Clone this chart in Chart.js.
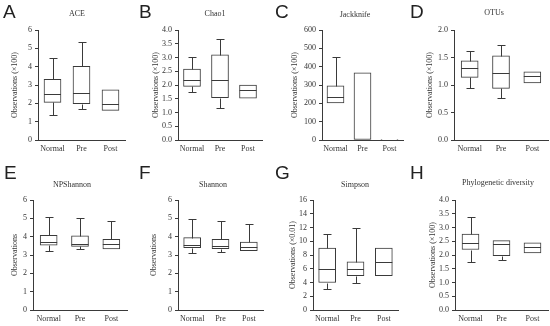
<!DOCTYPE html>
<html lang="en">
<head>
    <meta charset="UTF-8">
    <title>Alpha diversity box plots</title>
    <script src="https://cdn.jsdelivr.net/npm/chart.js"></script>
    <style>
        body {
            margin: 0;
            background-color: #ffffff;
        }

        #wrap {
            position: relative;
            width: 550px;
            height: 326px;
        }

        #wrap canvas {
            position: absolute;
        }

        .letter {
            position: absolute;
            font-family: 'Liberation Sans', Arial, sans-serif;
            font-size: 19px;
            line-height: 1;
            color: #222;
        }

        .ptitle {
            position: absolute;
            font-family: 'Liberation Serif', 'Times New Roman', serif;
            font-size: 8px;
            line-height: 1;
            color: #333;
            white-space: nowrap;
            transform: translate(-50%, -50%);
        }
    </style>
</head>
<body>
    <div id="wrap"></div>

    <script>
        const groups = ['Normal', 'Pre', 'Post'];

        // each row: [min, q1, median, q3, max] for Normal, Pre, Post
        const aceBoxes = [[1.38, 2.05, 2.52, 3.31, 4.50], [1.69, 1.98, 2.58, 4.02, 5.36], [1.62, 1.62, 1.96, 2.73, 2.73]];
        const chao1Boxes = [[1.76, 1.95, 2.20, 2.58, 3.01], [1.18, 1.54, 2.17, 3.10, 3.66], [1.52, 1.52, 1.82, 2.00, 2.00]];
        const jackknifeBoxes = [[202, 202, 236, 296, 451], [0, 0, 0, 367, 367], [0, 0, 1, 1, 1]];
        const otuBoxes = [[0.95, 1.14, 1.31, 1.44, 1.62], [0.76, 0.94, 1.22, 1.53, 1.72], [1.04, 1.04, 1.16, 1.24, 1.24]];
        const npShannonBoxes = [[3.22, 3.53, 3.71, 4.07, 5.09], [3.35, 3.47, 3.60, 4.04, 5.04], [3.33, 3.33, 3.60, 3.85, 4.87]];
        const shannonBoxes = [[3.13, 3.40, 3.56, 3.95, 4.95], [3.16, 3.35, 3.49, 3.85, 4.87], [3.24, 3.24, 3.45, 3.71, 4.71]];
        const simpsonBoxes = [[3, 4, 6, 9, 11], [4, 5, 6, 7, 12], [5, 5, 7, 9, 9]];
        const phyloBoxes = [[1.76, 2.20, 2.42, 2.76, 3.39], [1.82, 1.98, 2.41, 2.52, 2.52], [2.08, 2.08, 2.29, 2.44, 2.44]];

        const ticks0to6 = [0, 1, 2, 3, 4, 5, 6];
        const ticks0to4 = [0, 0.5, 1, 1.5, 2, 2.5, 3, 3.5, 4];
        const ticks0to600 = [0, 100, 200, 300, 400, 500, 600];
        const ticks0to2 = [0, 0.5, 1, 1.5, 2];
        const ticks0to16 = [0, 2, 4, 6, 8, 10, 12, 14, 16];

        const titles = ['ACE', 'Chao1', 'Jackknife', 'OTUs', 'NPShannon', 'Shannon', 'Simpson', 'Phylogenetic diversity'];
        const letters = ['A', 'B', 'C', 'D', 'E', 'F', 'G', 'H'];
        const yTitles = ['Observations (×100)', 'Observations (×100)', 'Observations (×100)', 'Observations (×100)',
                         'Observations', 'Observations', 'Observations (×0.01)', 'Observations (×100)'];

        // layout of each panel (page px): canvas box, plot box, title/letter spots
        const panels = [
            { boxes: aceBoxes, ticks: ticks0to6, dec: 0, cx: 0, cy: 0, cw: 135, pl: 38, pr: 125, pt: 30, pb: 140, yto: 15, tx: 77, ty: 14, lx: 3, ly: 2 },
            { boxes: chao1Boxes, ticks: ticks0to4, dec: 1, cx: 135, cy: 0, cw: 135, pl: 178, pr: 262, pt: 30, pb: 140, yto: 21, tx: 215, ty: 14, lx: 139, ly: 2 },
            { boxes: jackknifeBoxes, ticks: ticks0to600, dec: 0, cx: 270, cy: 0, cw: 135, pl: 322, pr: 403, pt: 30, pb: 140, yto: 25, tx: 355, ty: 15, lx: 275, ly: 2 },
            { boxes: otuBoxes, ticks: ticks0to2, dec: 1, cx: 405, cy: 0, cw: 145, pl: 454, pr: 548, pt: 30, pb: 140, yto: 25, tx: 494, ty: 13, lx: 410, ly: 2 },
            { boxes: npShannonBoxes, ticks: ticks0to6, dec: 0, cx: 0, cy: 163, cw: 135, pl: 33, pr: 127, pt: 200, pb: 310, yto: 15, tx: 72, ty: 185, lx: 4, ly: 163 },
            { boxes: shannonBoxes, ticks: ticks0to6, dec: 0, cx: 135, cy: 163, cw: 135, pl: 178, pr: 263, pt: 200, pb: 310, yto: 19, tx: 213, ty: 185, lx: 139, ly: 163 },
            { boxes: simpsonBoxes, ticks: ticks0to16, dec: 0, cx: 270, cy: 163, cw: 135, pl: 313, pr: 398, pt: 200, pb: 310, yto: 23, tx: 355, ty: 185, lx: 275, ly: 163 },
            { boxes: phyloBoxes, ticks: ticks0to4, dec: 1, cx: 405, cy: 163, cw: 145, pl: 455, pr: 548, pt: 200, pb: 310, yto: 28, tx: 498, ty: 183, lx: 410, ly: 163 }
        ];

        const lineColor = '#3a3a3a';
        const textColor = '#333';
        const serif = "'Liberation Serif', 'Times New Roman', serif";

        // whiskers + median, drawn with the chart's own scales
        const boxWhisker = {
            id: 'boxWhisker',
            afterDatasetsDraw(chart, args, opts) {
                const rows = opts.rows;
                if (!rows) return;
                const ctx = chart.ctx;
                const y = chart.scales.y;
                const meta = chart.getDatasetMeta(0);
                const py = v => Math.round(y.getPixelForValue(v)) + 0.5;
                const line = (x1, y1, x2, y2) => {
                    ctx.beginPath();
                    ctx.moveTo(x1, y1);
                    ctx.lineTo(x2, y2);
                    ctx.stroke();
                };
                ctx.save();
                ctx.strokeStyle = lineColor;
                ctx.lineWidth = 1;
                rows.forEach((r, i) => {
                    const bar = meta.data[i];
                    const cx = Math.round(bar.x) + 0.5;
                    const left = bar.x - bar.width / 2;
                    const right = bar.x + bar.width / 2;
                    const cap = Math.round(bar.width * 0.22);
                    if (r[4] > r[3]) {
                        line(cx, py(r[3]), cx, py(r[4]));
                        line(cx - cap, py(r[4]), cx + cap, py(r[4]));
                    }
                    if (r[0] < r[1]) {
                        line(cx, py(r[1]), cx, py(r[0]));
                        line(cx - cap, py(r[0]), cx + cap, py(r[0]));
                    }
                    line(left, py(r[2]), right, py(r[2]));
                });
                ctx.restore();
            }
        };

        const wrap = document.getElementById('wrap');

        panels.forEach((p, k) => {
            const ch = 163;
            const canvas = document.createElement('canvas');
            canvas.width = p.cw;
            canvas.height = ch;
            canvas.style.left = p.cx + 'px';
            canvas.style.top = p.cy + 'px';
            wrap.appendChild(canvas);

            const letter = document.createElement('div');
            letter.className = 'letter';
            letter.style.left = p.lx + 'px';
            letter.style.top = p.ly + 'px';
            letter.textContent = letters[k];
            wrap.appendChild(letter);

            const t = document.createElement('div');
            t.className = 'ptitle';
            t.style.left = p.tx + 'px';
            t.style.top = p.ty + 'px';
            t.textContent = titles[k];
            wrap.appendChild(t);

            const yWidth = p.pl - p.cx;
            const xHeight = p.cy + ch - p.pb;

            new Chart(canvas, {
                type: 'bar',
                data: {
                    labels: groups,
                    datasets: [{
                        data: p.boxes.map(r => [r[1], r[3]]),
                        backgroundColor: '#ffffff',
                        borderColor: lineColor,
                        borderWidth: 1,
                        borderSkipped: false,
                        barThickness: 17
                    }]
                },
                options: {
                    responsive: false,
                    animation: false,
                    devicePixelRatio: 1,
                    layout: {
                        padding: { top: p.pt - p.cy, right: p.cx + p.cw - p.pr, bottom: 0, left: 0 }
                    },
                    plugins: {
                        legend: { display: false },
                        tooltip: { enabled: false },
                        boxWhisker: { rows: p.boxes }
                    },
                    scales: {
                        x: {
                            offset: true,
                            grid: { display: false, drawTicks: false },
                            border: { display: true, color: lineColor, width: 1 },
                            ticks: {
                                color: textColor,
                                padding: 4,
                                autoSkip: false,
                                maxRotation: 0,
                                minRotation: 0,
                                font: { family: serif, size: 8 }
                            },
                            afterFit: s => { s.height = xHeight; }
                        },
                        y: {
                            min: p.ticks[0],
                            max: p.ticks[p.ticks.length - 1],
                            grid: { display: true, drawOnChartArea: false, drawTicks: true, tickLength: 3, color: lineColor },
                            border: { display: true, color: lineColor, width: 1 },
                            ticks: {
                                color: textColor,
                                padding: 3,
                                font: { family: serif, size: 8 },
                                callback: v => Number(v).toFixed(p.dec)
                            },
                            afterBuildTicks: s => { s.ticks = p.ticks.map(v => ({ value: v })); },
                            title: {
                                display: true,
                                text: yTitles[k],
                                color: textColor,
                                font: { family: serif, size: 8 },
                                padding: { top: p.yto - 5, bottom: 0 }
                            },
                            afterFit: s => { s.width = yWidth; }
                        }
                    }
                },
                plugins: [boxWhisker]
            });
        });
    </script>
</body>
</html>
